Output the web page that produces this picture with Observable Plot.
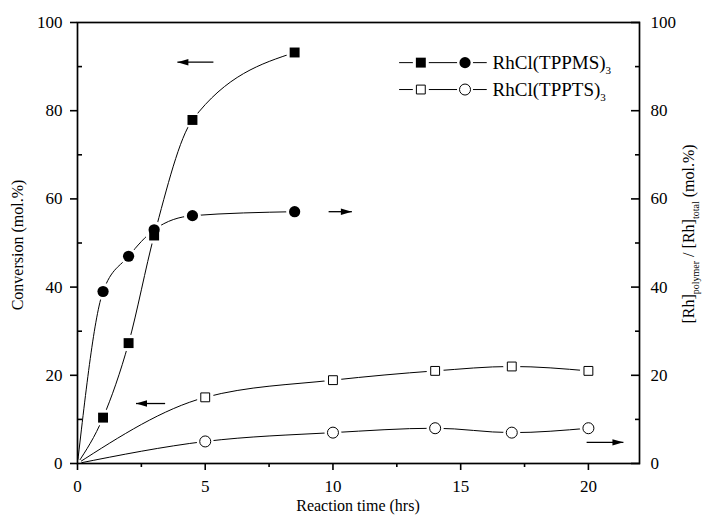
<!DOCTYPE html>
<html><head><meta charset="utf-8">
<script src="https://cdn.jsdelivr.net/npm/d3@7"></script>
<script src="https://cdn.jsdelivr.net/npm/@observablehq/plot@0.6"></script>
<style>
body{margin:0;background:#fff}
#chart{position:relative;width:706px;height:521px}
#chart svg text{font-family:"Liberation Serif","Times New Roman",serif}
</style>
</head><body><div id="chart"></div>
<script>
// ---- data ----
const timeTPPMS = [0, 1, 2, 3, 4.5, 8.5];
const convTPPMS = [0, 10.4, 27.3, 51.7, 77.9, 93.2];   // left axis, filled squares
const rhTPPMS   = [0, 39, 47, 53, 56.2, 57.1];        // right axis, filled circles
const timeTPPTS = [0, 5, 10, 14, 17, 20];
const convTPPTS = [0, 15, 18.9, 21, 22, 21];          // left axis, open squares
const rhTPPTS   = [0, 5, 7, 8, 7, 8];                 // right axis, open circles

const xTicks = [0, 5, 10, 15, 20];
const xMinor = [2.5, 7.5, 12.5, 17.5];
const yTicks = [0, 20, 40, 60, 80, 100];
const yMinor = [10, 30, 50, 70, 90];

// annotation arrows: [from x, to x, y]
const arrowFrom = [5.32, 9.83, 3.43, 19.93];
const arrowTo   = [3.91, 10.74, 2.29, 21.37];
const arrowY    = [91.0, 57.1, 13.6, 4.8];

const legendLabels = ["RhCl(TPPMS)", "RhCl(TPPTS)"];
const legendFilled = [true, false];
const legendRowY = [90.9, 84.8];
const legendX = {start: 12.59, square: 13.44, circle: 15.17, end: 16.02, text: 16.25};

// ---- build tables ----
const rec = (t, v) => t.map((x, i) => ({x, y: v[i]}));
const sConvMS = rec(timeTPPMS, convTPPMS);
const sRhMS = rec(timeTPPMS, rhTPPMS);
const sConvTS = rec(timeTPPTS, convTPPTS);
const sRhTS = rec(timeTPPTS, rhTPPTS);
const nz = a => a.filter(d => d.x > 0);
const allPts = [...nz(sConvMS), ...nz(sRhMS), ...nz(sConvTS), ...nz(sRhTS)];
const arrows = arrowFrom.map((x1, i) => ({x1, x2: arrowTo[i], y: arrowY[i], left: arrowTo[i] < x1}));
const legend = legendLabels.map((label, i) => ({label, filled: legendFilled[i], y: legendRowY[i]}));
const legFilled = legend.filter(d => d.filled);
const legOpen = legend.filter(d => !d.filled);

const head = {draw(ctx) { ctx.moveTo(0, 0); ctx.lineTo(-11, -3.2); ctx.lineTo(-11, 3.2); ctx.closePath(); }};

const font = "'Liberation Serif', 'Times New Roman', serif";
const curve = "monotone-x";
const plot = Plot.plot({
  width: 706, height: 521,
  marginLeft: 77, marginRight: 67, marginTop: 22, marginBottom: 58,
  style: {fontFamily: font, fontSize: "16px", color: "black", background: "white"},
  x: {domain: [0, 22]},
  y: {domain: [0, 100]},
  marks: [
    Plot.line(sConvMS, {x: "x", y: "y", curve, stroke: "black", strokeWidth: 1}),
    Plot.line(sRhMS, {x: "x", y: "y", curve, stroke: "black", strokeWidth: 1}),
    Plot.line(sConvTS, {x: "x", y: "y", curve, stroke: "black", strokeWidth: 1}),
    Plot.line(sRhTS, {x: "x", y: "y", curve, stroke: "black", strokeWidth: 1}),
    // white halos around markers (gaps in lines)
    Plot.dot(allPts, {x: "x", y: "y", r: 8.5, fill: "white"}),
    Plot.dot([{x: 0, y: 0}], {x: "x", y: "y", r: 4, fill: "white"}),
    Plot.dot(nz(sConvMS), {x: "x", y: "y", symbol: "square", r: 5.6, fill: "black"}),
    Plot.dot(nz(sRhMS), {x: "x", y: "y", symbol: "circle", r: 5.6, fill: "black"}),
    Plot.dot(nz(sConvTS), {x: "x", y: "y", symbol: "square", r: 5.0, fill: "white", stroke: "black", strokeWidth: 1}),
    Plot.dot(nz(sRhTS), {x: "x", y: "y", symbol: "circle", r: 5.5, fill: "white", stroke: "black", strokeWidth: 1}),
    // arrows
    Plot.link(arrows, {x1: "x1", x2: "x2", y1: "y", y2: "y", stroke: "black", strokeWidth: 1.3}),
    Plot.dot(arrows, {x: "x2", y: "y", symbol: head, r: 5, fill: "black", stroke: "none", rotate: d => d.left ? 180 : 0}),
    // legend
    Plot.link(legend, {x1: legendX.start, x2: legendX.end, y1: "y", y2: "y", stroke: "black", strokeWidth: 1}),
    Plot.dot(legend, {x: legendX.square, y: "y", r: 8, fill: "white"}),
    Plot.dot(legend, {x: legendX.circle, y: "y", r: 8, fill: "white"}),
    Plot.dot(legFilled, {x: legendX.square, y: "y", symbol: "square", r: 5.6, fill: "black"}),
    Plot.dot(legFilled, {x: legendX.circle, y: "y", symbol: "circle", r: 5.6, fill: "black"}),
    Plot.dot(legOpen, {x: legendX.square, y: "y", symbol: "square", r: 5.0, fill: "white", stroke: "black", strokeWidth: 1}),
    Plot.dot(legOpen, {x: legendX.circle, y: "y", symbol: "circle", r: 5.5, fill: "white", stroke: "black", strokeWidth: 1}),
    Plot.text(legend, {x: legendX.text, y: "y", text: "label", textAnchor: "start", fontSize: 19, fontFamily: font, className: "legtext"}),
    // axes
    Plot.frame({stroke: "black", strokeWidth: 1.7}),
    Plot.axisX({ticks: xTicks, tickSize: 7, tickPadding: 9, label: null, fontSize: 17, fontFamily: font, tickFormat: d => d, strokeWidth: 1.6}),
    Plot.axisX({ticks: xMinor, tickSize: 4, text: null, label: null, strokeWidth: 1.6}),
    Plot.axisY({ticks: yTicks, anchor: "left", tickSize: 7, tickPadding: 8, label: null, fontSize: 17, fontFamily: font, tickFormat: d => d, strokeWidth: 1.6}),
    Plot.axisY({ticks: yMinor, anchor: "left", tickSize: 5, dx: 5, text: null, label: null, strokeWidth: 1.6}),
    Plot.axisY({ticks: yTicks, anchor: "right", tickSize: 9, dx: -9, text: null, label: null, strokeWidth: 1.6}),
    Plot.axisY({ticks: yMinor, anchor: "right", tickSize: 5, dx: -5, text: null, label: null, strokeWidth: 1.6}),
    Plot.axisY({ticks: yTicks, anchor: "right", tickSize: 0, tickPadding: 11, label: null, fontSize: 17, fontFamily: font, tickFormat: d => d})
  ]
});
document.getElementById("chart").appendChild(plot);

const svg = d3.select(plot);
svg.selectAll("text").style("font-family", font);
// legend subscripts
svg.selectAll("g.legtext text").each(function() {
  d3.select(this).append("tspan").attr("dy", 5).attr("font-size", 11).text("3");
});
svg.append("text").attr("transform", "translate(23,245) rotate(-90)")
  .attr("text-anchor", "middle").style("font-family", font).attr("font-size", 16).attr("fill", "black")
  .text("Conversion (mol.%)");
svg.append("text").attr("x", 358).attr("y", 511)
  .attr("text-anchor", "middle").style("font-family", font).attr("font-size", 16).attr("fill", "black")
  .text("Reaction time (hrs)");
const rt = svg.append("text").attr("transform", "translate(694,234) rotate(-90)")
  .attr("text-anchor", "middle").style("font-family", font).attr("font-size", 16).attr("fill", "black");
rt.append("tspan").text("[Rh]");
rt.append("tspan").attr("dy", 5).attr("font-size", 10).text("polymer");
rt.append("tspan").attr("dy", -5).text(" / [Rh]");
rt.append("tspan").attr("dy", 5).attr("font-size", 10).text("total");
rt.append("tspan").attr("dy", -5).text(" (mol.%)");
</script>
</body></html>
